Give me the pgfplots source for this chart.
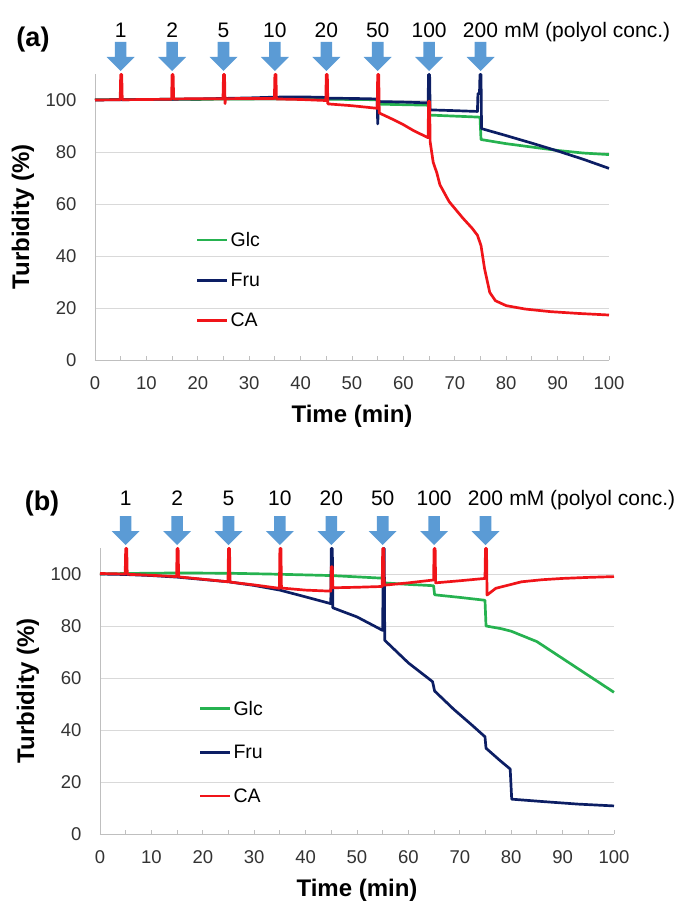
\documentclass[border=0pt]{standalone}
\usepackage{pgfplots}
\pgfplotsset{compat=1.18}
\usepackage{fontspec}
\setmainfont{Liberation Sans}

\definecolor{cglc}{RGB}{38,178,80}
\definecolor{cfru}{RGB}{12,30,100}
\definecolor{cca}{RGB}{240,20,25}
\definecolor{arrowblue}{RGB}{91,155,213}
\definecolor{axgray}{RGB}{191,191,191}
\definecolor{gridgray}{RGB}{217,217,217}

\newcommand{\numfont}{\fontsize{21bp}{23bp}\selectfont}
\newcommand{\legfont}{\fontsize{19.5bp}{21bp}\selectfont}

\pgfplotsset{
  turb/.style={
    width=514bp, height=286bp, scale only axis,
    xmin=0, xmax=100, ymin=0, ymax=110,
    xtick={0,10,...,100}, minor xtick={5,15,...,95},
    ytick={0,20,...,100},
    axis lines*=left,
    axis line style={axgray, line width=0.9pt},
    tick align=inside,
    major tick length=4bp, minor tick length=4bp,
    xtick style={axgray, line width=0.9pt},
    minor tick style={axgray, line width=0.9pt},
    ytick style={draw=none},
    ymajorgrids, grid style={gridgray, line width=0.9pt},
    tick label style={font=\fontsize{18.5bp}{20bp}\selectfont, text=black!80},
    yticklabel style={xshift=-15bp},
    xticklabel style={yshift=-13bp},
    /pgf/number format/assume math mode=true,
    xlabel={Time (min)}, ylabel={Turbidity (\%)},
    label style={font=\bfseries\fontsize{24bp}{26bp}\selectfont},
    xlabel style={at={(axis description cs:0.5,-0.196)}, anchor=center},
    ylabel style={at={(axis description cs:-0.14,0.5)}, anchor=center},
    clip=false,
    every axis plot/.append style={line width=2.7pt, line join=round},
    legend cell align=left,
    legend style={at={(axis cs:19.6,50)}, anchor=north west, draw=none, fill=none,
      inner sep=0pt, row sep=21bp, font=\legfont,
      /tikz/every even column/.append style={column sep=2bp}},
    legend image code/.code={\draw[#1, line width=2.7pt] (0bp,0bp) -- (30bp,0bp);},
  },
}

\newcommand{\addarrow}[1]{%
  \fill[arrowblue] ([yshift=3bp]axis cs:#1,110) -- ++(-14bp,14bp) -- ++(8.2bp,0)
    -- ++(0,15bp) -- ++(11.6bp,0) -- ++(0,-15bp) -- ++(8.2bp,0) -- cycle;}

\newcommand{\concs}[1]{%
  \node[font=\numfont] at ([yshift=#1]axis cs:5,110) {1};
  \node[font=\numfont] at ([yshift=#1]axis cs:15,110) {2};
  \node[font=\numfont] at ([yshift=#1]axis cs:25,110) {5};
  \node[font=\numfont] at ([yshift=#1]axis cs:35,110) {10};
  \node[font=\numfont] at ([yshift=#1]axis cs:45,110) {20};
  \node[font=\numfont] at ([yshift=#1]axis cs:55,110) {50};
  \node[font=\numfont] at ([yshift=#1]axis cs:65,110) {100};
  \node[font=\numfont, inner sep=0pt] (n200) at ([yshift=#1]axis cs:75,110) {200};
  \node[font=\numfont, anchor=base west, inner sep=0pt] at ([xshift=6bp]n200.base east) {mM (polyol conc.)};
  \addarrow{5}\addarrow{15}\addarrow{25}\addarrow{35}
  \addarrow{45}\addarrow{55}\addarrow{65}\addarrow{75}
}

\begin{document}
\begin{tikzpicture}
\useasboundingbox (-95bp,-544bp) rectangle (588bp,360bp);

% ---------- (a) ----------
\begin{axis}[turb]
  \addplot[cglc] coordinates {
    (0,100.1)(5,100.2)(10,100.2)(15,100.3)(20,100.2)(25,100.4)(30,100.4)
    (35,100.5)(40,100.4)(45,100.3)(50,100.2)(54.9,100.1)(55.1,98.4)(60,98.2)
    (64.9,98.0)(65.1,94.2)(70,93.8)(74.9,93.4)(75.1,84.8)(80,83.2)(85,81.9)
    (90,80.6)(95,79.6)(100,79.0)};
  \addlegendentry{Glc}
  \addplot[cfru] coordinates {
    (0,100)(10,100.2)(20,100.4)(30,100.8)(35,101.1)(40,101.2)(44.9,101.0)
    (45.1,100.7)(50,100.6)(54.9,100.4)(55.0,90.8)(55.2,99.4)(60,99.2)(64.8,98.9)
    (64.9,109.8)(65.1,109.8)(65.2,96.2)(70,95.9)(74.4,95.6)(74.5,102.5)(74.8,102.5)
    (74.9,109.8)(75.1,109.8)(75.2,89.0)(80,86.3)(85,83.4)(90,80.4)(95,77.2)(100,73.7)};
  \addlegendentry{Fru}
  \addplot[cca] coordinates {
    (0,100)(4.9,100.1)(5.0,109.8)(5.2,109.8)(5.3,100.1)(10,100.2)(14.9,100.3)
    (15.0,109.8)(15.2,109.8)(15.3,100.4)(20,100.5)(24.9,100.5)(25.0,109.8)
    (25.2,109.8)(25.3,98.6)(25.4,100.5)(30,100.6)(34.9,100.6)(35.0,109.8)
    (35.2,109.8)(35.3,100.4)(40,100.2)(44.9,99.8)(45.0,109.8)(45.2,109.8)
    (45.3,98.5)(50,97.8)(54.9,96.8)(55.0,109.8)(55.2,109.8)(55.3,95.0)(58,92.5)
    (60,90.5)(62,88.2)(64.8,85.5)(64.9,99.5)(65.1,99.5)(65.2,84)(65.8,76)
    (66.5,72)(67.1,67.4)(68.9,60.9)(71.6,54.5)(73.4,50.6)(74.4,48)(75.1,44)
    (75.8,35)(76.8,26)(77.9,22.8)(80,20.9)(83.7,19.6)(88.6,18.6)(94.1,17.9)(100,17.3)};
  \addlegendentry{CA}
  \concs{44bp}
  \node[font=\bfseries\fontsize{27bp}{29bp}\selectfont] at ([xshift=-62bp,yshift=34bp]axis cs:0,110) {(a)};
\end{axis}

% ---------- (b) ----------
\begin{axis}[turb, at={(5bp,-474bp)}, legend style={at={(axis cs:19.2,52)}, row sep=24.5bp}]
  \addplot[cglc] coordinates {
    (0,100)(5,100.2)(15,100.4)(25,100.3)(35,99.9)(45,99.4)(54.9,98.4)(55.1,96.6)
    (60,96)(64.9,95.5)(65.1,92)(70,91)(74.9,89.9)(75.1,80)(78,79)(80,78)(85,74)
    (90,67.5)(95,61)(100,54.5)};
  \addlegendentry{Glc}
  \addplot[cfru] coordinates {
    (0,100)(5,99.8)(10,99.4)(15,98.8)(20,97.9)(25,97)(30,95.6)(35,93.8)(40,91.2)
    (44.9,88.6)(45.0,109.8)(45.2,109.8)(45.3,87)(50,83.5)(55.0,78.3)(55.1,109.8)
    (55.3,109.8)(55.4,74.5)(60,65.8)(64.7,58.6)(65.1,55)(68.8,48)(72.3,42)
    (74.9,37.4)(75.1,33)(77.8,28.3)(79.8,25)(80.1,13.4)(86,12.5)(93,11.5)(100,10.8)};
  \addlegendentry{Fru}
  \addplot[cca] coordinates {
    (0,100.2)(4.9,100)(5.0,109.8)(5.2,109.8)(5.3,99.9)(10,99.5)(14.9,99)
    (15.0,109.8)(15.2,109.8)(15.3,98.9)(20,98)(24.9,97)(25.0,109.8)(25.2,109.8)
    (25.3,96.9)(30,95.8)(34.9,94.5)(35.0,109.8)(35.2,109.8)(35.3,94.6)(40,93.8)
    (44.9,93.4)(45.0,102.8)(45.2,102.8)(45.3,94.7)(50,94.9)(54.9,95.2)(55.0,109.8)
    (55.2,109.8)(55.3,95.7)(60,96.6)(64.9,97.7)(65.0,109.8)(65.2,109.8)(65.3,96.6)
    (70,97.4)(74.9,98.3)(75.0,109.8)(75.2,109.8)(75.3,91.9)(77,94.5)(80,96)(82,97)
    (86,97.8)(90,98.3)(95,98.7)(100,99)};
  \addlegendentry{CA}
  \concs{50bp}
  \node[font=\bfseries\fontsize{27bp}{29bp}\selectfont] at ([xshift=-58bp,yshift=44bp]axis cs:0,110) {(b)};
\end{axis}
\end{tikzpicture}
\end{document}
